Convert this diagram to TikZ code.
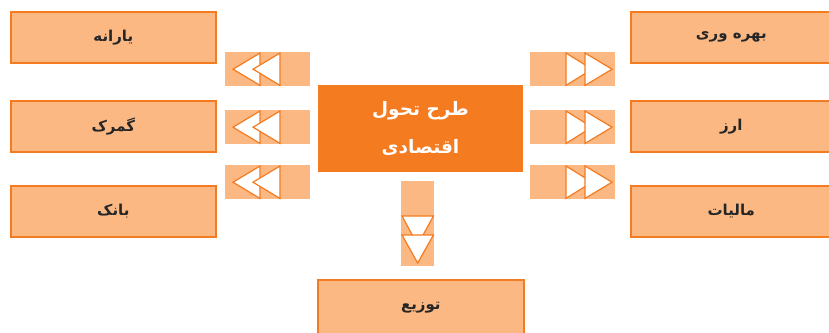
\documentclass[tikz,border=0pt]{standalone}
\usepackage{fontspec}
\TeXXeTstate=1
\newfontfamily\arabicfont[Script=Arabic]{DejaVu Sans}
\definecolor{lightor}{HTML}{FBB883}
\definecolor{darkor}{HTML}{F47B20}
\begin{document}
\begin{tikzpicture}[x=1pt,y=-1pt,
  box/.style={draw=darkor,line width=1.6pt,fill=lightor,anchor=north west,inner sep=0pt,
    font=\arabicfont\bfseries\fontsize{15}{18}\selectfont,text=black!85},
  band/.style={fill=lightor,draw=none,anchor=north west,inner sep=0pt},
  tri/.style={fill=white,draw=darkor,line width=1.2pt,line join=miter}]
\useasboundingbox (0,0) rectangle (829,332);
% left boxes
\node[box,minimum width=205,minimum height=51] (yar) at (10,11) {\beginR یارانه\endR};
\node[box,minimum width=205,minimum height=51] (gom) at (10,100) {\beginR گمرک\endR};
\node[box,minimum width=205,minimum height=51] (ban) at (10,185) {\beginR بانک\endR};
% right boxes
\node[box,minimum width=205,minimum height=51] (bah) at (630,11) {\hspace{-4pt}\beginR بهره وری\endR};
\node[box,minimum width=205,minimum height=51] (arz) at (630,100) {\hspace{-4pt}\beginR ارز\endR};
\node[box,minimum width=205,minimum height=51] (mal) at (630,185) {\hspace{-4pt}\beginR مالیات\endR};
% center
\node[draw=white,line width=1pt,fill=darkor,anchor=north west,minimum width=206,minimum height=88,inner sep=0pt,
  text=white,align=center,font=\arabicfont\bfseries\fontsize{18.5}{38}\selectfont] (ctr) at (317,84)
  {\beginR طرح تحول\endR\\\beginR اقتصادی\endR};
% bottom
\node[box,minimum width=206,minimum height=56] (tow) at (317,279) {\beginR توزیع\endR};
% left arrow bands
\foreach \n/\y in {la1/52,la2/110,la3/165}{
  \node[band,minimum width=85,minimum height=34] (\n) at (225,\y) {};
  \draw[tri] ([xshift=35pt,yshift=-1pt]\n.north west) -- ([xshift=8pt]\n.west) -- ([xshift=35pt,yshift=1pt]\n.south west) -- cycle;
  \draw[tri] ([xshift=55pt,yshift=-1pt]\n.north west) -- ([xshift=28pt]\n.west) -- ([xshift=55pt,yshift=1pt]\n.south west) -- cycle;
}
% right arrow bands
\foreach \n/\y in {ra1/52,ra2/110,ra3/165}{
  \node[band,minimum width=85,minimum height=34] (\n) at (530,\y) {};
  \draw[tri] ([xshift=36pt,yshift=-1pt]\n.north west) -- ([xshift=62pt]\n.west) -- ([xshift=36pt,yshift=1pt]\n.south west) -- cycle;
  \draw[tri] ([xshift=55pt,yshift=-1pt]\n.north west) -- ([xshift=82pt]\n.west) -- ([xshift=55pt,yshift=1pt]\n.south west) -- cycle;
}
% down arrow band
\node[band,minimum width=33,minimum height=85] (da) at (401,181) {};
\draw[tri] ([yshift=-35pt,xshift=1pt]da.north west) -- ([yshift=-64pt]da.north) -- ([yshift=-35pt,xshift=-1pt]da.north east) -- cycle;
\draw[tri] ([yshift=-54pt,xshift=1pt]da.north west) -- ([yshift=-82pt]da.north) -- ([yshift=-54pt,xshift=-1pt]da.north east) -- cycle;
\end{tikzpicture}
\end{document}
